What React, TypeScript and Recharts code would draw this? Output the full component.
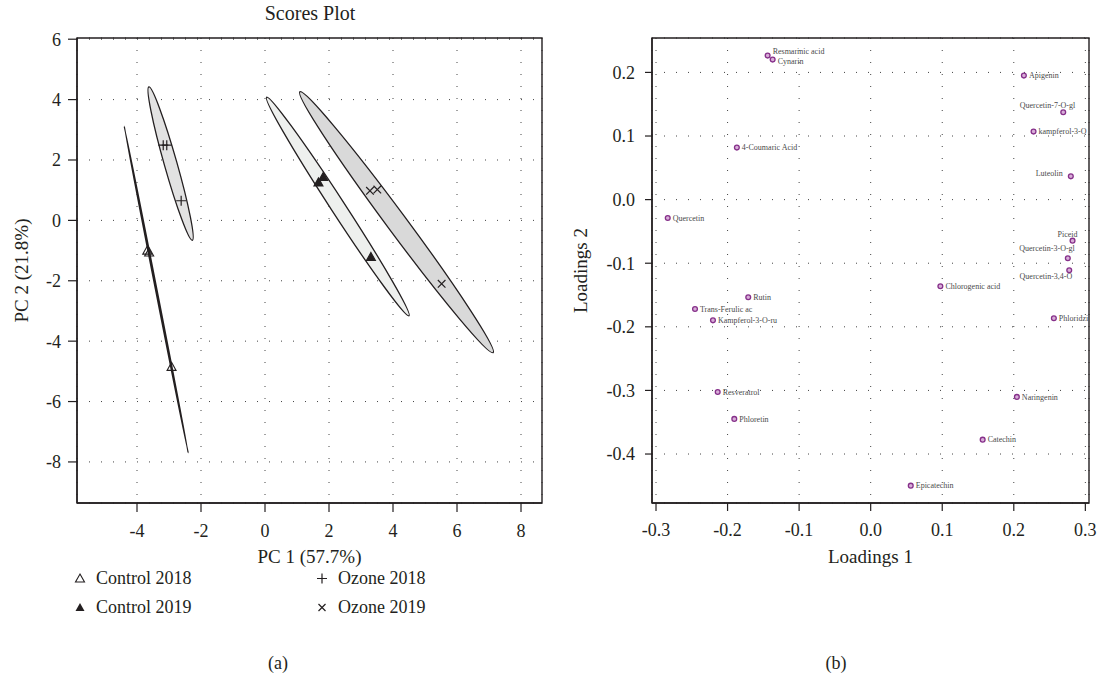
import { ScatterChart, Scatter, XAxis, YAxis, CartesianGrid, ReferenceArea, Label } from "recharts";

const SERIF = '"Liberation Serif", "DejaVu Serif", serif';
const INK = "#231f20";

// ---- scores plot (PC1, PC2) ----
const control2018 = [{ x: -3.68, y: -1.0 }, { x: -3.62, y: -1.06 }, { x: -2.92, y: -4.85 }];
const control2019 = [{ x: 1.67, y: 1.26 }, { x: 1.82, y: 1.44 }, { x: 3.31, y: -1.21 }];
const ozone2018 = [{ x: -3.18, y: 2.49 }, { x: -3.07, y: 2.49 }, { x: -2.62, y: 0.65 }];
const ozone2019 = [{ x: 3.28, y: 0.98 }, { x: 3.51, y: 1.02 }, { x: 5.52, y: -2.1 }];

// confidence ellipses: both ends of the long axis, then a point on the widest edge
const ellControl2018 = [{ x: -4.4, y: 3.12 }, { x: -2.4, y: -7.7 }, { x: -3.38, y: -2.285 }];
const ellOzone2018 = [{ x: -3.63, y: 4.42 }, { x: -2.27, y: -0.66 }, { x: -2.76, y: 1.94 }];
const ellControl2019 = [{ x: 0.05, y: 4.08 }, { x: 4.5, y: -3.16 }, { x: 2.46, y: 0.587 }];
const ellOzone2019 = [{ x: 1.09, y: 4.26 }, { x: 7.13, y: -4.38 }, { x: 4.36, y: 0.13 }];

const PC1_TICKS = [-4, -2, 0, 2, 4, 6, 8];
const PC2_TICKS = [-8, -6, -4, -2, 0, 2, 4, 6];

// ---- loadings plot ----
const COMPOUNDS = [
  "Resmarinic acid", "Cynarin", "4-Coumaric Acid", "Quercetin", "Apigenin",
  "Quercetin-7-O-gl", "kampferol-3-O", "Luteolin", "Piceid", "Quercetin-3-O-gl",
  "Quercetin-3,4-O", "Chlorogenic acid", "Phloridzin", "Naringenin", "Catechin",
  "Epicatechin", "Rutin", "Trans-Ferulic ac", "Kampferol-3-O-ru", "Resveratrol", "Phloretin",
];
const LOADING_1 = [
  -0.144, -0.137, -0.187, -0.2836, 0.2141,
  0.2691, 0.2276, 0.2797, 0.2821, 0.2755,
  0.2775, 0.0974, 0.256, 0.2043, 0.1565,
  0.056, -0.1711, -0.2455, -0.2204, -0.2138, -0.1906,
];
const LOADING_2 = [
  0.2264, 0.2201, 0.0818, -0.0288, 0.195,
  0.1373, 0.1069, 0.0366, -0.0645, -0.0923,
  -0.1112, -0.1363, -0.1866, -0.3102, -0.3774,
  -0.4497, -0.1536, -0.1719, -0.1898, -0.3024, -0.3448,
];
const L_TICKS = [-0.3, -0.2, -0.1, 0, 0.1, 0.2, 0.3];
const L2_TICKS = [-0.4, -0.3, -0.2, -0.1, 0, 0.1, 0.2];

// label placement where it is not simply right of the point: [anchor, dx, dy]
const LABEL_PLACE: Record<string, [string, number, number]> = {
  "Resmarinic acid": ["start", 5, -4],
  Cynarin: ["start", 5, 1.5],
  "Quercetin-7-O-gl": ["end", 12, -7],
  Luteolin: ["end", -8, -3],
  Piceid: ["end", 5, -6],
  "Quercetin-3-O-gl": ["end", 7, -10],
  "Quercetin-3,4-O": ["end", 3, 6],
};

const loadings = COMPOUNDS.map((name, i) => ({ name, x: LOADING_1[i], y: LOADING_2[i] }));

const tickStyle = { fontSize: 18, fill: INK, fontFamily: SERIF };
const axisLine = { stroke: INK, strokeWidth: 1.4 };
const tickLine = { stroke: INK, strokeWidth: 1.2 };

const ellipseLine = (fill: string, sw = 1.3) => (props: any) => {
  const pts = props.points;
  if (!pts || pts.length < 3) return null;
  const [a, b, c] = pts;
  const cx = (a.x + b.x) / 2;
  const cy = (a.y + b.y) / 2;
  const dx = b.x - a.x;
  const dy = b.y - a.y;
  const len = Math.hypot(dx, dy);
  const ry = Math.abs((c.x - cx) * dy - (c.y - cy) * dx) / len;
  const ang = (Math.atan2(dy, dx) * 180) / Math.PI;
  return (
    <ellipse
      cx={cx}
      cy={cy}
      rx={len / 2}
      ry={Math.max(ry, 0.3)}
      transform={`rotate(${ang} ${cx} ${cy})`}
      fill={fill}
      stroke={INK}
      strokeWidth={sw}
    />
  );
};

const noDot = () => <g />;

const triangle = (filled: boolean) => (p: any) => {
  const { cx, cy } = p;
  const s = 4.5;
  return (
    <path
      d={`M${cx},${cy - s}L${cx + s},${cy + s * 0.8}L${cx - s},${cy + s * 0.8}Z`}
      fill={filled ? INK : "none"}
      stroke={INK}
      strokeWidth={1.1}
    />
  );
};

const plus = (p: any) => {
  const { cx, cy } = p;
  return <path d={`M${cx - 5},${cy}H${cx + 5}M${cx},${cy - 5}V${cy + 5}`} stroke={INK} strokeWidth={1.2} />;
};

const cross = (p: any) => {
  const { cx, cy } = p;
  const s = 3.8;
  return (
    <path
      d={`M${cx - s},${cy - s}L${cx + s},${cy + s}M${cx - s},${cy + s}L${cx + s},${cy - s}`}
      stroke={INK}
      strokeWidth={1.2}
    />
  );
};

const loadingDot = (p: any) => {
  const { cx, cy, payload } = p;
  const name = payload?.name ?? "";
  const [anchor, dx, dy] = LABEL_PLACE[name] || ["start", 5, 0];
  return (
    <g>
      <circle cx={cx} cy={cy} r={2.4} fill="#d8aed8" stroke="#86308a" strokeWidth={1.3} />
      <text
        x={cx + dx}
        y={cy + dy}
        dy="0.35em"
        fontSize={8}
        fill="#4a4a4a"
        fontFamily={SERIF}
        textAnchor={anchor as any}
      >
        {name}
      </text>
    </g>
  );
};

const xTitle = (text: string) => (props: any) => {
  const vb = props.viewBox;
  return (
    <text x={vb.x + vb.width / 2} y={vb.y + 60} textAnchor="middle" fontSize={19} fill={INK} fontFamily={SERIF}>
      {text}
    </text>
  );
};

const yTitle = (text: string, off: number) => (props: any) => {
  const vb = props.viewBox;
  const x = vb.x + off;
  const y = vb.y + vb.height / 2;
  return (
    <text
      x={x}
      y={y}
      dy="0.35em"
      transform={`rotate(-90 ${x} ${y})`}
      textAnchor="middle"
      fontSize={19}
      fill={INK}
      fontFamily={SERIF}
    >
      {text}
    </text>
  );
};

const legendSym = (kind: string) => {
  if (kind === "open") return <path d="M6,2L10.5,10L1.5,10Z" fill="none" stroke={INK} strokeWidth={1.1} />;
  if (kind === "fill") return <path d="M6,2L10.5,10L1.5,10Z" fill={INK} />;
  if (kind === "plus") return <path d="M1,6.5H11M6,1.5V11.5" stroke={INK} strokeWidth={1.2} />;
  return <path d="M2.5,3L9.5,10M2.5,10L9.5,3" stroke={INK} strokeWidth={1.2} />;
};

const LEGEND = [
  { label: "Control 2018", kind: "open", left: 74, top: 568 },
  { label: "Control 2019", kind: "fill", left: 74, top: 597 },
  { label: "Ozone 2018", kind: "plus", left: 316, top: 568 },
  { label: "Ozone 2019", kind: "cross", left: 316, top: 597 },
];

export default function App() {
  return (
    <div
      style={{
        position: "absolute",
        left: 0,
        top: 0,
        width: 1103,
        height: 680,
        background: "#fff",
        fontFamily: SERIF,
        color: INK,
      }}
    >
      <div style={{ position: "absolute", left: 210, top: 3, width: 200, textAlign: "center", fontSize: 20, lineHeight: "20px" }}>
        Scores Plot
      </div>

      <div style={{ position: "absolute", left: 0, top: 0 }}>
        <ScatterChart width={560} height={580} margin={{ top: 38, right: 18, bottom: 0, left: 17 }}>
          <CartesianGrid stroke="#444" strokeDasharray="1 11" />
          <XAxis
            type="number"
            dataKey="x"
            domain={[-5.875, 8.656]}
            ticks={PC1_TICKS}
            allowDataOverflow
            interval={0}
            height={77}
            tickSize={9}
            tickMargin={12}
            tick={tickStyle}
            axisLine={axisLine}
            tickLine={tickLine}
          >
            <Label content={xTitle("PC 1 (57.7%)")} />
          </XAxis>
          <YAxis
            type="number"
            dataKey="y"
            domain={[-9.36, 6.04]}
            ticks={PC2_TICKS}
            allowDataOverflow
            interval={0}
            width={60}
            tickSize={9}
            tickMargin={7}
            tick={tickStyle}
            axisLine={axisLine}
            tickLine={tickLine}
          >
            <Label content={yTitle("PC 2 (21.8%)", 4)} />
          </YAxis>
          <ReferenceArea x1={-5.875} x2={8.656} y1={-9.36} y2={6.04} fill="none" stroke={INK} strokeWidth={1.4} ifOverflow="visible" />
          <Scatter data={ellControl2018} line={ellipseLine("none", 1.4)} shape={noDot} isAnimationActive={false} />
          <Scatter data={ellOzone2018} line={ellipseLine("#e2e2e2")} shape={noDot} isAnimationActive={false} />
          <Scatter data={ellControl2019} line={ellipseLine("#eef0ee")} shape={noDot} isAnimationActive={false} />
          <Scatter data={ellOzone2019} line={ellipseLine("#d9d9d9")} shape={noDot} isAnimationActive={false} />
          <Scatter name="Control 2018" data={control2018} shape={triangle(false)} isAnimationActive={false} />
          <Scatter name="Control 2019" data={control2019} shape={triangle(true)} isAnimationActive={false} />
          <Scatter name="Ozone 2018" data={ozone2018} shape={plus} isAnimationActive={false} />
          <Scatter name="Ozone 2019" data={ozone2019} shape={cross} isAnimationActive={false} />
        </ScatterChart>
      </div>

      <div style={{ position: "absolute", left: 560, top: 0 }}>
        <ScatterChart width={543} height={580} margin={{ top: 38, right: 14, bottom: 0, left: 12 }}>
          <CartesianGrid stroke="#444" strokeDasharray="1 11" />
          <XAxis
            type="number"
            dataKey="x"
            domain={[-0.3056, 0.3051]}
            ticks={L_TICKS}
            allowDataOverflow
            interval={0}
            height={77}
            tickSize={8}
            tickMargin={12}
            tick={tickStyle}
            tickFormatter={(v: number) => v.toFixed(1)}
            axisLine={axisLine}
            tickLine={tickLine}
          >
            <Label content={xTitle("Loadings 1")} />
          </XAxis>
          <YAxis
            type="number"
            dataKey="y"
            domain={[-0.477, 0.2541]}
            ticks={L2_TICKS}
            allowDataOverflow
            interval={0}
            width={80}
            tickSize={7}
            tickMargin={10}
            tick={tickStyle}
            tickFormatter={(v: number) => v.toFixed(1)}
            axisLine={axisLine}
            tickLine={tickLine}
          >
            <Label content={yTitle("Loadings 2", 8)} />
          </YAxis>
          <ReferenceArea x1={-0.3056} x2={0.3051} y1={-0.477} y2={0.2541} fill="none" stroke={INK} strokeWidth={1.4} ifOverflow="visible" />
          <Scatter name="Loadings" data={loadings} shape={loadingDot} isAnimationActive={false} />
        </ScatterChart>
      </div>

      {LEGEND.map((l) => (
        <div
          key={l.label}
          style={{ position: "absolute", left: l.left, top: l.top, fontSize: 18, lineHeight: "20px", whiteSpace: "nowrap", display: "flex", alignItems: "center" }}
        >
          <svg width={12} height={13} style={{ marginRight: 10 }}>
            {legendSym(l.kind)}
          </svg>
          {l.label}
        </div>
      ))}

      <div style={{ position: "absolute", left: 248, top: 653, width: 60, textAlign: "center", fontSize: 18, lineHeight: "20px" }}>(a)</div>
      <div style={{ position: "absolute", left: 806, top: 653, width: 60, textAlign: "center", fontSize: 18, lineHeight: "20px" }}>(b)</div>
    </div>
  );
}
